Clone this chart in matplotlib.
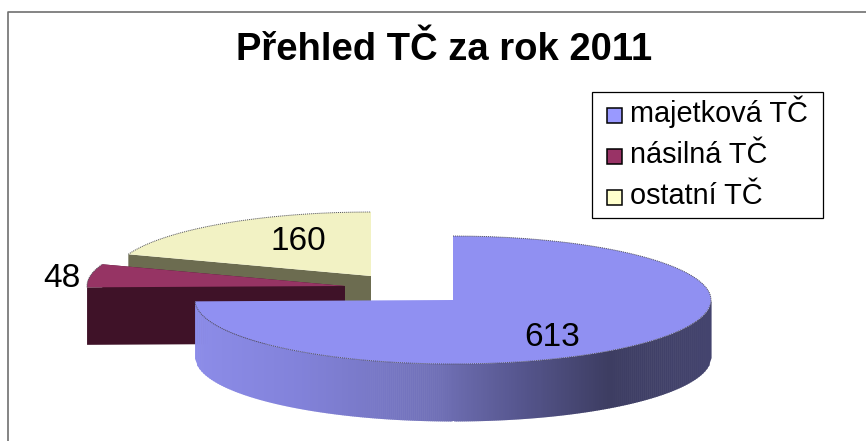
import numpy as np
import matplotlib
matplotlib.use('Agg')
import matplotlib.pyplot as plt
from matplotlib.colors import LinearSegmentedColormap
from matplotlib.patches import Rectangle

labels = ['majetková TČ', 'násilná TČ', 'ostatní TČ']
values = [613, 48, 160]
top_colors = ['#9090f2', '#963464', '#f2f2c4']
side_colors = ['#44446e', '#3f1228', '#6c6c50']
legend_colors = ['#9999ff', '#993366', '#ffffcc']

# slice centres in pixels, exploded by hand like the original
centers = [(453, 300), (345, 286), (371, 276)]
rx = 258
ry = 64
depth = 57.5

plt.rcParams['font.family'] = ['Liberation Sans', 'DejaVu Sans']

fig = plt.figure(figsize=(8.66, 4.41), dpi=100)
ax = fig.add_axes([0, 0, 1, 1])
ax.set_xlim(0, 866)
ax.set_ylim(441, 0)
ax.axis('off')

# chart frame, only left and top show in the crop
ax.plot([8, 8, 866], [441, 12, 12], color='#707070', lw=1.2)

# angles clockwise from 12 o'clock
ends = np.cumsum(values) / sum(values) * 360
starts = np.concatenate([[0], ends[:-1]])


def arc(i, n=200):
    t = np.radians(90 - np.linspace(starts[i], ends[i], n))
    cx, cy = centers[i]
    return cx + rx * np.cos(t), cy - ry * np.sin(t)


shade = LinearSegmentedColormap.from_list('shade', [
    (0.0, '#8c8ce8'), (0.2, '#8282da'), (0.47, '#7070b6'),
    (0.63, '#56568e'), (0.8, '#3d3d62'), (1.0, '#44446e')])

# yellow first, it sits at the back
order = [2, 1, 0]
for i in order:
    x, y = arc(i)
    cx, cy = centers[i]
    z = {2: 2, 1: 3, 0: 4}[i]
    if i == 0:
        # outer wall of the big slice, front half only
        front = y >= cy
        xf, yf = x[front], y[front]
        xs = np.linspace(xf.min(), xf.max(), 260)
        yy = cy + ry * np.sqrt(np.clip(1 - ((xs - cx) / rx) ** 2, 0, 1))
        for k in range(len(xs) - 1):
            c = shade((xs[k] - xs[0]) / (xs[-1] - xs[0]))
            ax.fill([xs[k], xs[k + 1] + 0.6, xs[k + 1] + 0.6, xs[k]],
                    [yy[k], yy[k + 1], yy[k + 1] + depth, yy[k] + depth],
                    color=c, lw=0, zorder=z)
    else:
        ax.fill([cx, x[0], x[0], cx], [cy, y[0], y[0] + depth, cy + depth],
                color=side_colors[i], lw=0, zorder=z)
        ax.fill([cx, x[-1], x[-1], cx], [cy, y[-1], y[-1] + depth, cy + depth],
                color=side_colors[i], lw=0, zorder=z)
    ax.fill(np.r_[cx, x], np.r_[cy, y], color=top_colors[i], lw=0, zorder=z + 0.1)
    ax.plot(x, y, color='#50505a', lw=0.7, ls=(0, (1, 1)), zorder=z + 0.2)

ax.text(444, 60, 'Přehled TČ za rok 2011', fontsize=27.5, fontweight='bold',
        ha='center', va='baseline')

ax.text(552, 346, str(values[0]), fontsize=24, ha='center', va='baseline', zorder=9)
ax.text(62, 287, str(values[1]), fontsize=24, ha='center', va='baseline', zorder=9)
ax.text(298, 250, str(values[2]), fontsize=24, ha='center', va='baseline', zorder=9)

# legend
ax.add_patch(Rectangle((592, 92), 231, 126, fc='white', ec='black', lw=0.9, zorder=5))
for i, name in enumerate(labels):
    yl = 115 + i * 41
    ax.add_patch(Rectangle((606.5, yl - 7.5), 15, 15, fc=legend_colors[i], ec='black',
                           lw=1.1, zorder=6))
    ax.text(630, yl + 7, name, fontsize=20.8, va='baseline', zorder=6)

fig.savefig('out.png', dpi=100)
